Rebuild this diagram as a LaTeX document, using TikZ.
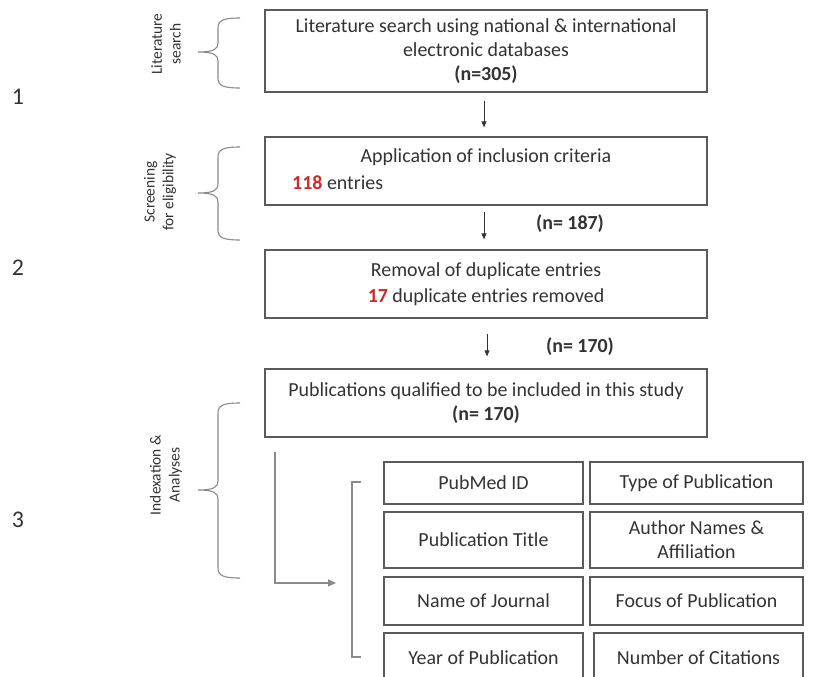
\documentclass[tikz,border=0pt]{standalone}
\usepackage{fontspec}
\setmainfont{Carlito}
\usetikzlibrary{arrows.meta}
\definecolor{txt}{HTML}{333333}
\definecolor{frame}{HTML}{5A5A5A}
\definecolor{numred}{HTML}{D02A2A}
\definecolor{brc}{HTML}{8A8A8A}
\newcommand\mybrace[3]{% top, middle, bottom (px)
  \draw[brc,line width=1.1pt] (240,#1) .. controls (224,#1) and (218,#1+2) .. (218,#1+10)
    -- (218,#2-9) .. controls (218,#2-3) and (214,#2) .. (198,#2)
    .. controls (214,#2) and (218,#2+3) .. (218,#2+9)
    -- (218,#3-10) .. controls (218,#3-2) and (224,#3) .. (240,#3);}
\tikzset{
  box/.style={draw=frame,line width=1.3pt,fill=white,minimum width=442bp,inner sep=0pt},
  tx/.style={text=txt,font=\fontsize{20}{24}\selectfont,align=center,inner sep=0pt},
  side/.style={text=txt,font=\fontsize{15.5}{19}\selectfont,align=center,rotate=90,inner sep=0pt},
  num/.style={text=txt,font=\fontsize{24}{26}\selectfont,inner sep=0pt},
  cell/.style={draw=frame,line width=1.3pt,fill=white,inner sep=0pt,text=txt,align=center,font=\fontsize{20}{24}\selectfont},
  arr/.style={-{Triangle[length=6bp,width=5bp]},line width=0.8pt,txt},
}
\begin{document}
\begin{tikzpicture}[x=1bp,y=-1bp]
\useasboundingbox (0,0) rectangle (827,677);
\fill[white] (0,0) rectangle (827,677);
\begin{scope}
\clip (0,0) rectangle (827,677);
% main boxes
\node[box,minimum height=82bp] (b1) at (486,51) {};
\node[tx] (t1) at (486,51) {Literature search using national \& international\\electronic databases\\\textbf{(n=305)}};
\node[box,minimum height=68bp] (b2) at (486,171) {};
\node[tx] (t2a) at (486,157) {Application of inclusion criteria};
\node[tx,anchor=west] (t2b) at (292,183) {\textcolor{numred}{\textbf{118}} entries};
\node[box,minimum height=68bp] (b3) at (486,284) {};
\node[tx] (t3) at (486,284) {Removal of duplicate entries\\[2bp]\textcolor{numred}{\textbf{17}} duplicate entries removed};
\node[box,minimum height=68bp] (b4) at (486,403) {};
\node[tx] (t4) at (486,403) {Publications qualified to be included in this study\\\textbf{(n= 170)}};
% arrows between boxes
\draw[arr,shorten <=8bp,shorten >=9bp] (b1.south -| 484,0) -- (b2.north -| 484,0);
\draw[arr,shorten <=6bp,shorten >=10bp] (b2.south -| 484,0) -- (b3.north -| 484,0);
\draw[arr,shorten <=15bp,shorten >=12bp] (b3.south -| 487,0) -- (b4.north -| 487,0);
\node[tx,font=\fontsize{20}{22}\selectfont\bfseries] (n187) at (570,224) {(n= 187)};
\node[tx,font=\fontsize{20}{22}\selectfont\bfseries] (n170) at (580,347) {(n= 170)};
% side labels
\node[num] (s1) at (18,97) {1};
\node[num] (s2) at (18,268) {2};
\node[num] (s3) at (18,520) {3};
\node[side] (l1) at (166,44) {Literature\\search};
\node[side] (l2) at (160,192) {Screening\\for eligibility};
\node[side] (l3) at (166,475) {Indexation \&\\Analyses};
\mybrace{18}{52}{88}
\mybrace{147}{193}{240}
\mybrace{403}{490}{578}
% L arrow and bracket
\coordinate (ls) at (275,452);
\coordinate (le) at (335,583);
\draw[arr,brc,line width=1.1pt,-{Triangle[length=8bp,width=7bp]},shorten >=-1bp] (ls) |- (le);
\draw[brc,line width=1.1pt] (361,482) -- (352,482) -- (352,657) -- (361,657);
% grid
\node[cell,minimum width=199bp,minimum height=42bp] (c11) at (483.5,483) {PubMed ID};
\node[cell,minimum width=213bp,minimum height=42bp] (c12) at (696.5,483) {Type of Publication};
\node[cell,minimum width=199bp,minimum height=56bp] (c21) at (483.5,540) {Publication Title};
\node[cell,minimum width=213bp,minimum height=56bp] (c22) at (696.5,540) {Author Names \&\\Affiliation};
\node[cell,minimum width=199bp,minimum height=48bp] (c31) at (483.5,601) {Name of Journal};
\node[cell,minimum width=213bp,minimum height=48bp] (c32) at (696.5,601) {Focus of Publication};
\node[cell,minimum width=199bp,minimum height=58bp,text depth=0pt] (c41) at (483.5,662) {};
\node[cell,minimum width=209bp,minimum height=58bp] (c42) at (698.5,662) {};
\node[tx] (t41) at (483.5,658) {Year of Publication};
\node[tx] (t42) at (698.5,658) {Number of Citations};
\end{scope}
\end{tikzpicture}
\end{document}
